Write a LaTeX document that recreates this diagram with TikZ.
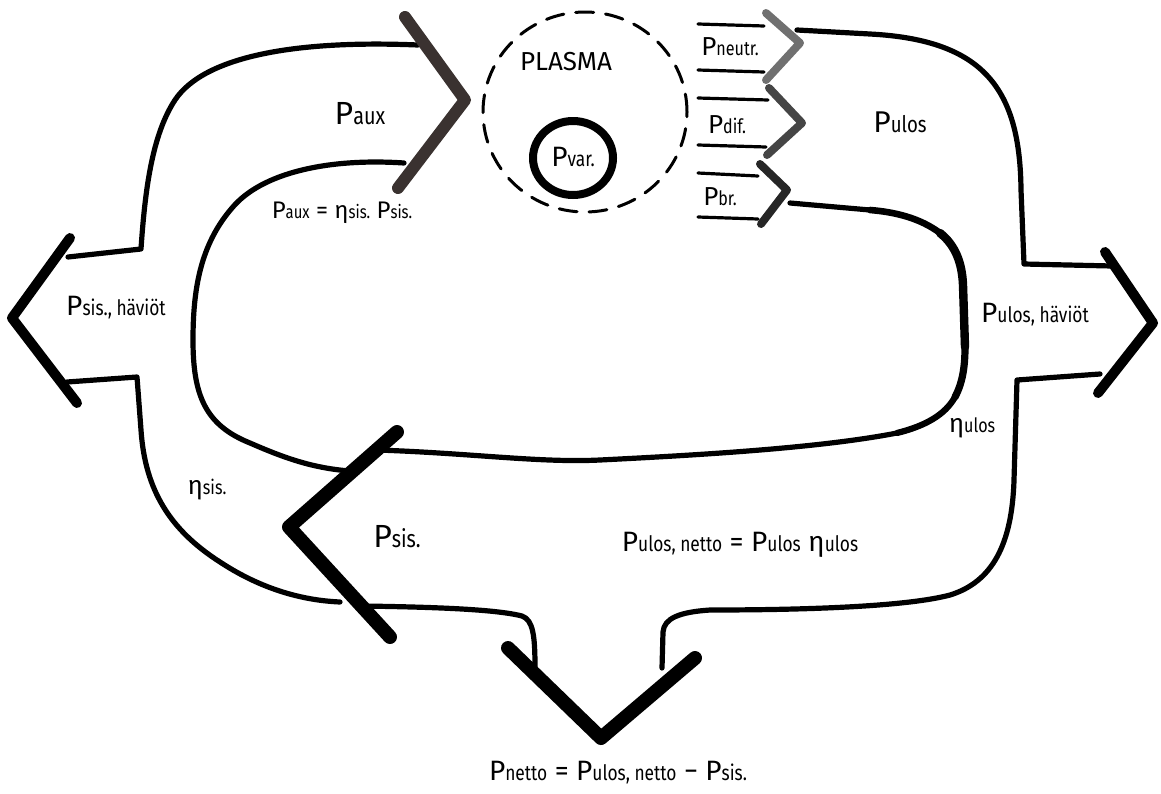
\documentclass[tikz,border=0pt]{standalone}
\usepackage{fontspec}
\setmainfont{Fira Sans}
\newcommand{\sm}[1]{\scalebox{0.62}[0.76]{#1}}
\definecolor{auxc}{HTML}{3A3230}
\definecolor{neuc}{HTML}{707070}
\definecolor{difc}{HTML}{454545}
\begin{document}
\begin{tikzpicture}[x=0.5pt,y=-0.5pt,line cap=round,line join=round,
  band/.style={line width=2.6pt},
  thinline/.style={line width=1.6pt},
  chevS/.style={line width=5pt},
  chevM/.style={line width=6pt},
  chevL/.style={line width=7pt},
  chevT/.style={line width=4pt},
  lab/.style={inner sep=0pt},
  f11/.style={font=\fontsize{11}{13}\selectfont},
  f12/.style={font=\fontsize{12}{14}\selectfont},
  f13/.style={font=\fontsize{13}{15}\selectfont},
  f14/.style={font=\fontsize{14}{16}\selectfont},
  f15/.style={font=\fontsize{15}{17}\selectfont},
  f16/.style={font=\fontsize{16}{18}\selectfont}]
\useasboundingbox (0,0) rectangle (1161,793);

% ---- outer left band (P_aux / P_sis losses) ----
\draw[band] (418,45) .. controls (300,40) and (205,55) .. (175,100)
  .. controls (152,135) and (145,190) .. (141,249) -- (68,257);
\draw[band] (67,382) -- (137,377) -- (141,430)
  .. controls (145,490) and (170,530) .. (220,562)
  .. controls (255,585) and (295,600) .. (340,602);
\draw[chevS] (70,238) -- (12,318) -- (77,403);

% inner left loop
\draw[band] (404,163) .. controls (330,158) and (262,172) .. (232,208)
  .. controls (200,245) and (193,290) .. (193,340)
  .. controls (193,395) and (205,425) .. (250,443)
  .. controls (280,456) and (310,468) .. (350,471);

% P_aux chevron
\draw[chevM,auxc] (405,17) -- (465,100) -- (398,188);

% ---- plasma ----
\draw[line width=1.5pt,dash pattern=on 9pt off 6pt] (585,112) ellipse [x radius=51pt,y radius=50pt];
\draw[line width=4pt] (573,158) ellipse [x radius=20pt,y radius=18.5pt];

% ---- three outgoing arrows ----
\draw[thinline] (698,24) -- (764,26);
\draw[thinline] (698,70) -- (764,72);
\draw[thinline] (698,98) -- (768,100);
\draw[thinline] (698,145) -- (766,147);
\draw[thinline] (698,173) -- (758,176);
\draw[thinline] (698,217) -- (758,219);
\draw[chevT,neuc] (766,13) -- (800,43) -- (766,80);
\draw[chevT,difc] (769,88) -- (802,123) -- (767,155);
\draw[chevT,black!85] (760,164) -- (787,190) -- (761,224);

% ---- outer right band ----
\draw[band] (1112,266) -- (1024,264) -- (1021,190)
  .. controls (1020,90) and (985,40) .. (870,34) -- (797,30);
\draw[band] (662,668) -- (663,632) .. controls (664,618) and (680,612) .. (710,610)
  .. controls (800,610) and (905,607) .. (950,595)
  .. controls (992,582) and (1012,545) .. (1014,480) -- (1017,380) -- (1100,374);
\draw[chevS] (1105,252) -- (1153,323) -- (1098,393);

% inner right loop
\draw[band] (377,450) .. controls (470,453) and (540,463) .. (600,460)
  .. controls (700,455) and (820,448) .. (897,433)
  .. controls (925,426) and (945,415) .. (955,397)
  .. controls (963,382) and (965,365) .. (965,347) -- (963,285)
  .. controls (962,262) and (955,245) .. (940,233)
  .. controls (920,218) and (895,212) .. (870,210) -- (790,203);
\draw[line width=3.1pt] (897,433) .. controls (925,426) and (945,415) .. (955,397);
\draw[line width=3.6pt] (955,397) .. controls (963,382) and (965,365) .. (965,347);
\draw[line width=4.2pt] (965,347) -- (963,285)
  .. controls (962,262) and (955,245) .. (940,233);
\draw[line width=3.3pt] (940,233) .. controls (920,218) and (895,212) .. (870,210);

% bottom band lower line (left of neck)
\draw[band] (362,606) .. controls (430,607) and (495,609) .. (522,616)
  .. controls (533,620) and (535,635) .. (535,668);

% P_sis chevron and P_netto chevron
\draw[chevL] (397,432) -- (289,527) -- (390,637);
\draw[chevL] (508,648) -- (601,738) -- (695,658);

% ---- labels ----
\node[lab,f16] (paux) at (360,114) {P\sm{aux}};
\node[lab,f13] (plasma) at (566,62) {PLASMA};
\node[lab,f14] (pvar) at (573,157) {P\sm{var.}};
\node[lab,f13] (pneutr) at (730,47) {P\sm{neutr.}};
\node[lab,f13] (pdif) at (727,125) {P\sm{dif.}};
\node[lab,f13] (pbr) at (720,197) {P\sm{br.}};
\node[lab,f15] (pulos) at (900,122) {P\sm{ulos}};
\node[lab,f12] (pauxeq) at (342,213) {P\sm{aux} = η\sm{sis.} P\sm{sis.}};
\node[lab,f14] (psish) at (116,308) {P\sm{sis., häviöt}};
\node[lab,f14] (pulosh) at (1035,315) {P\sm{ulos, häviöt}};
\node[lab,f13] (etaulos) at (972,428) {η\sm{ulos}};
\node[lab,f13] (etasis) at (207,490) {η\sm{sis.}};
\node[lab,f16] (psis) at (397,537) {P\sm{sis.}};
\node[lab,f14] (pulosnetto) at (740,545) {P\sm{ulos, netto} = P\sm{ulos} η\sm{ulos}};
\node[lab,f14] (pnetto) at (618,773) {P\sm{netto} = P\sm{ulos, netto} − P\sm{sis.}};
\end{tikzpicture}
\end{document}
